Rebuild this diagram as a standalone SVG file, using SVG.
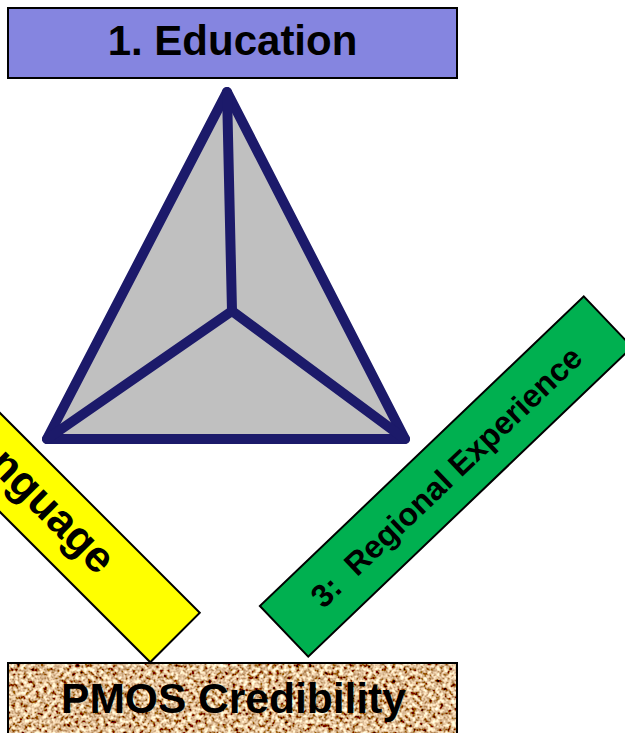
<svg xmlns="http://www.w3.org/2000/svg" width="625" height="733" viewBox="0 0 625 733">
<style>
.lbl{font-family:"Liberation Sans",Arial,sans-serif;font-weight:bold;fill:#000;text-anchor:middle}
.box{stroke:#000;stroke-width:2}
.tri{fill:#c0c0c0;stroke:#1c1a6a;stroke-width:10;stroke-linejoin:round;stroke-linecap:round}
.edge{fill:none;stroke:#1c1a6a;stroke-width:10;stroke-linecap:round;stroke-linejoin:round}
</style>
<defs>
<filter id="cork" x="0" y="0" width="100%" height="100%" filterUnits="objectBoundingBox">
<feTurbulence type="fractalNoise" baseFrequency="0.25" numOctaves="3" seed="7" result="n"/>
<feColorMatrix in="n" type="matrix" values="2.2 0 0 0 -0.38  2.2 0 0 0 -0.6  1.8 0 0 0 -0.6  0 0 0 0 1"/>
</filter>
</defs>
<rect width="625" height="733" fill="#fff"/>

<g id="triangle">
<polygon class="tri" points="227,92 47,439 405,439"/>
<polyline class="edge" points="227,92 232,311"/>
<polyline class="edge" points="47,439 232,311 405,439"/>
</g>

<g id="education">
<rect class="box" x="8" y="8" width="449" height="70" fill="#8585e0"/>
<text class="lbl" x="232.5" y="55" font-size="42">1. Education</text>
</g>

<g id="language" transform="translate(175,637.5) rotate(45)">
<rect class="box" x="-463" y="-35" width="463" height="70" fill="#ffff00" stroke-width="1.5"/>
<text class="lbl" x="-98" y="11.5" font-size="44" style="text-anchor:end">2: Language</text>
</g>

<g id="regional" transform="translate(446,476.5) rotate(-43.7)">
<rect class="box" x="-224" y="-35" width="448" height="70" fill="#00b050" stroke-width="1.5"/>
<text class="lbl" x="0" y="11.5" font-size="32" xml:space="preserve">3:  Regional Experience</text>
</g>

<g id="pmos">
<rect x="8" y="663" width="449" height="80" fill="#c8925c" filter="url(#cork)"/>
<rect class="box" x="8" y="663" width="449" height="80" fill="none"/>
<text class="lbl" x="233.5" y="713" font-size="42.5">PMOS Credibility</text>
</g>
</svg>
